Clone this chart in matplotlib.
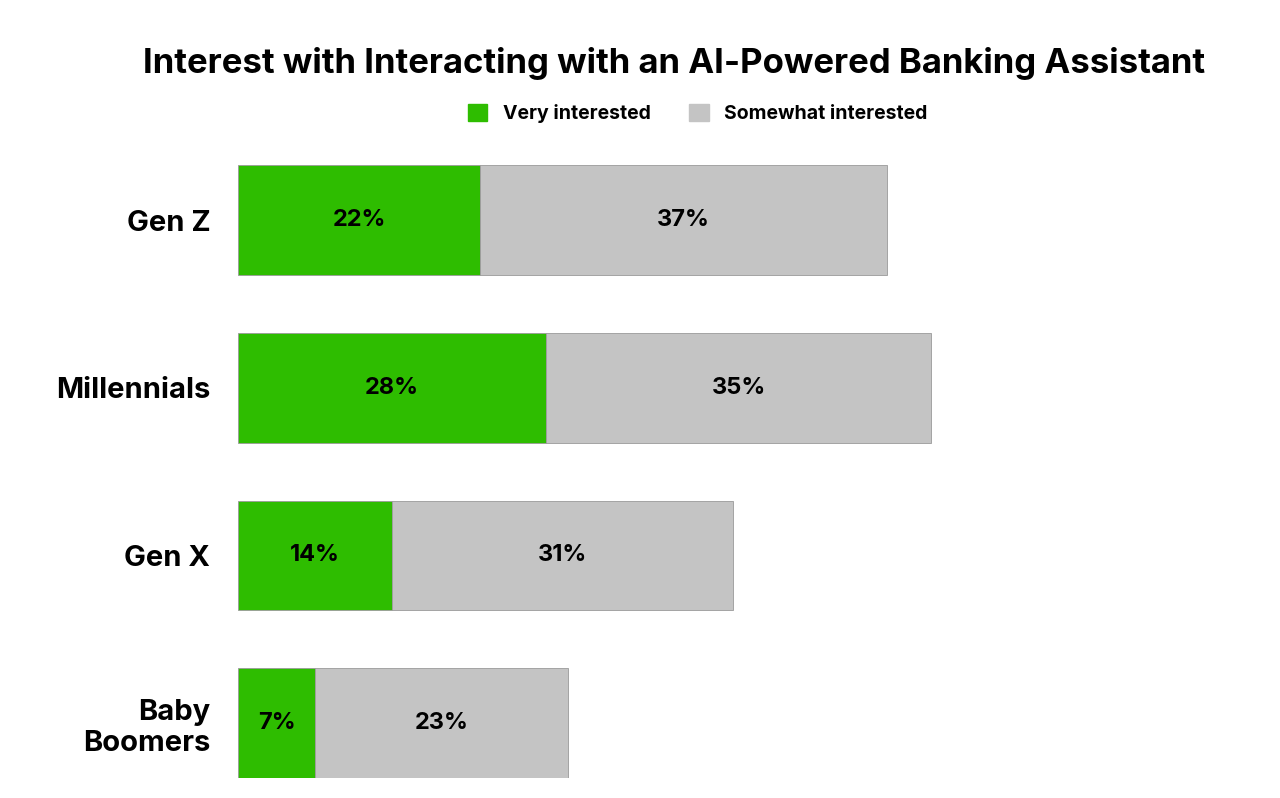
import matplotlib.pyplot as plt
from matplotlib.patches import Patch

plt.rcParams['font.family'] = ['Inter', 'DejaVu Sans']

groups = ['Gen Z', 'Millennials', 'Gen X', 'Baby\nBoomers']
very = [22, 28, 14, 7]
somewhat = [37, 35, 31, 23]

green = '#2ebd00'
grey = '#c4c4c4'

fig = plt.figure(figsize=(12.8, 7.98), dpi=100)
ax = fig.add_axes([0.186, 0.025, 0.6016, 0.768])

y = range(len(groups))
h = 0.655
ax.barh(y, very, height=h, color=green, edgecolor='#9a9a9a', linewidth=0.6)
ax.barh(y, somewhat, left=very, height=h, color=grey, edgecolor='#9a9a9a', linewidth=0.6)

for i in y:
    ax.text(very[i] / 2, i, f'{very[i]}%', ha='center', va='center',
            fontsize=17, fontweight='bold')
    ax.text(very[i] + somewhat[i] / 2, i, f'{somewhat[i]}%', ha='center', va='center',
            fontsize=17, fontweight='bold')

ax.set_xlim(0, 70)
ax.set_ylim(3.327, -0.327)
ax.set_yticks(list(y))
ax.set_yticklabels(groups, fontsize=21, fontweight='bold', ha='right')
ax.tick_params(axis='y', length=0, pad=20)
ax.set_xticks([])
for s in ax.spines.values():
    s.set_visible(False)

fig.text(0.5 + 0.027, 0.92, 'Interest with Interacting with an AI-Powered Banking Assistant',
         ha='center', va='center', fontsize=25, fontweight='bold')
fig.legend(handles=[Patch(color=green, label='Very interested'),
                    Patch(color=grey, label='Somewhat interested')],
           loc='center', bbox_to_anchor=(0.545, 0.858), ncol=2, frameon=False,
           prop={'size': 14, 'weight': 'bold'}, handlelength=1.0, handleheight=1.0,
           columnspacing=2.0)

fig.savefig('out.png', dpi=100)
